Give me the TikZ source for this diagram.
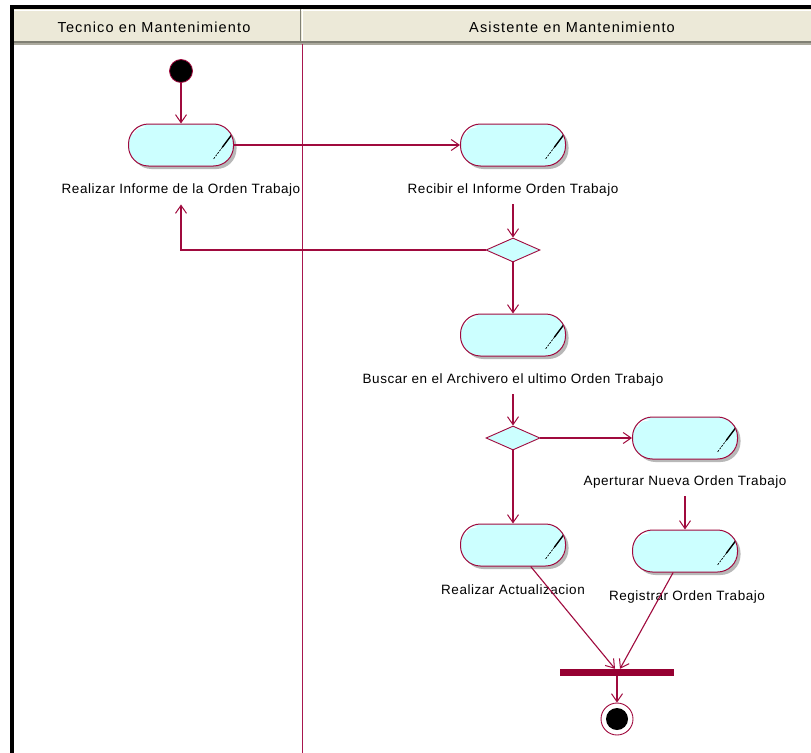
\documentclass[tikz,border=0pt]{standalone}
\usepackage{fontspec}
\setmainfont{Liberation Sans}
\newfontfamily\lblfont[LetterSpace=4]{Liberation Sans}
\newfontfamily\hdrfont[LetterSpace=8]{Liberation Sans}
\usetikzlibrary{arrows.meta,shapes.geometric,shadows}

\definecolor{flowred}{RGB}{160,10,62}
\definecolor{barred}{RGB}{150,0,50}
\definecolor{lanered}{RGB}{168,22,78}
\definecolor{actfill}{RGB}{204,255,255}
\definecolor{hdrfill}{RGB}{236,233,216}
\definecolor{hdrdark}{RGB}{128,128,116}
\definecolor{hdrmid}{RGB}{172,170,158}

\tikzset{
  activity/.style={rectangle, rounded corners=20bp, minimum width=105bp,
    minimum height=42bp, inner sep=0pt, draw=flowred, line width=1bp,
    fill=actfill,
    drop shadow={shadow xshift=3bp, shadow yshift=-3bp, fill=black!28, opacity=1},
    path picture={
      \draw[white, line width=1.2bp]
        ([shift={(5bp,-10bp)}]path picture bounding box.north west)
        to[out=90,in=180] ([shift={(16bp,-3bp)}]path picture bounding box.north west);
      \draw[black, line width=1.4bp]
        ([shift={(-2bp,-11bp)}]path picture bounding box.north east) -- ++(-9bp,-12bp);
      \draw[black, line width=0.7bp, dash pattern=on 2bp off 1.2bp]
        ([shift={(-11bp,-23bp)}]path picture bounding box.north east) -- ++(-9bp,-12bp);
    }},
  decision/.style={diamond, aspect=2.25, minimum width=54bp, minimum height=24bp,
    inner sep=0pt, draw=flowred, line width=0.9bp, fill=actfill},
  startdot/.style={circle, minimum size=23bp, inner sep=0pt, fill=black,
    draw=flowred, line width=0.8bp},
  enddot/.style={circle, minimum size=32bp, inner sep=0pt, fill=white,
    draw=flowred, line width=0.9bp},
  syncbar/.style={rectangle, minimum width=114bp, minimum height=7bp,
    inner sep=0pt, fill=barred},
  lbl/.style={inner sep=0pt, font=\lblfont\fontsize{13.5bp}{15bp}\selectfont},
  hdr/.style={inner sep=0pt, font=\hdrfont\fontsize{14.5bp}{16bp}\selectfont},
  flow/.style={draw=flowred, line width=1.1bp,
    -{Straight Barb[length=8bp, width=11bp, line width=1bp]}},
}

\begin{document}
\begin{tikzpicture}[x=1bp, y=-1bp]
\useasboundingbox (0,0) rectangle (811,753);
\fill[white] (0,0) rectangle (811,753);

% swimlane header band
\fill[hdrfill] (13,9) rectangle (811,41);
\draw[white, line width=1bp] (13,10.5) -- (811,10.5);
\draw[hdrdark, line width=1.8bp] (13,41.8) -- (811,41.8);
\draw[hdrmid, line width=1.8bp] (13,43.7) -- (811,43.7);
\draw[hdrdark, line width=1.3bp] (300.6,9) -- (300.6,41);
\draw[white, line width=1bp] (302.4,9) -- (302.4,41);
\node[hdr] (h1) at (154,27) {Tecnico en Mantenimiento};
\node[hdr] (h2) at (572,27) {Asistente en Mantenimiento};

% lane separator
\draw[lanered, line width=1.6bp] (302.3,44.5) -- (302.3,753);

% outer frame
\fill[black] (10,5) rectangle (811,9);
\fill[black] (10,5) rectangle (14,753);

% activity states
\node[startdot] (s) at (181,71) {};
\node[activity] (a1) at (181,145) {};
\node[lbl] (l1) at (181,190) {Realizar Informe de la Orden Trabajo};
\node[activity] (a2) at (513,145) {};
\node[lbl] (l2) at (513,190) {Recibir el Informe Orden Trabajo};
\node[decision] (d1) at (513,250) {};
\node[activity] (a3) at (513,335) {};
\node[lbl] (l3) at (513,380) {Buscar en el Archivero el ultimo Orden Trabajo};
\node[decision] (d2) at (513,438) {};
\node[activity] (a4) at (685,438) {};
\node[lbl] (l4) at (685,482) {Aperturar Nueva Orden Trabajo};
\node[activity] (a5) at (513,545) {};
\node[lbl] (l5) at (513,590) {Realizar Actualizacion};
\node[activity] (a6) at (685,551) {};
\node[lbl] (l6) at (687,597) {Registrar Orden Trabajo};
\node[syncbar] (bar) at (617,672.5) {};
\node[enddot] (e) at (617,719) {};
\fill[black] (e) circle (11bp);

% transitions
\draw[flow] (s) -- (a1);
\draw[flow] (a1) -- (a2);
\draw[flow, shorten <=8bp] (l2) -- (d1);
\draw[flow, shorten >=8bp] (d1.west) -| (l1);
\draw[flow] (d1) -- (a3);
\draw[flow, shorten <=8bp] (l3) -- (d2);
\draw[flow] (d2) -- (a4);
\draw[flow] (d2) -- (a5);
\draw[flow, shorten <=8bp] (l4) -- (a6);
\draw[flow] (a5) -- ([xshift=-2bp]bar.north);
\draw[flow] (a6) -- ([xshift=3bp]bar.north);
\draw[flow] (bar) -- (e);
\end{tikzpicture}
\end{document}
